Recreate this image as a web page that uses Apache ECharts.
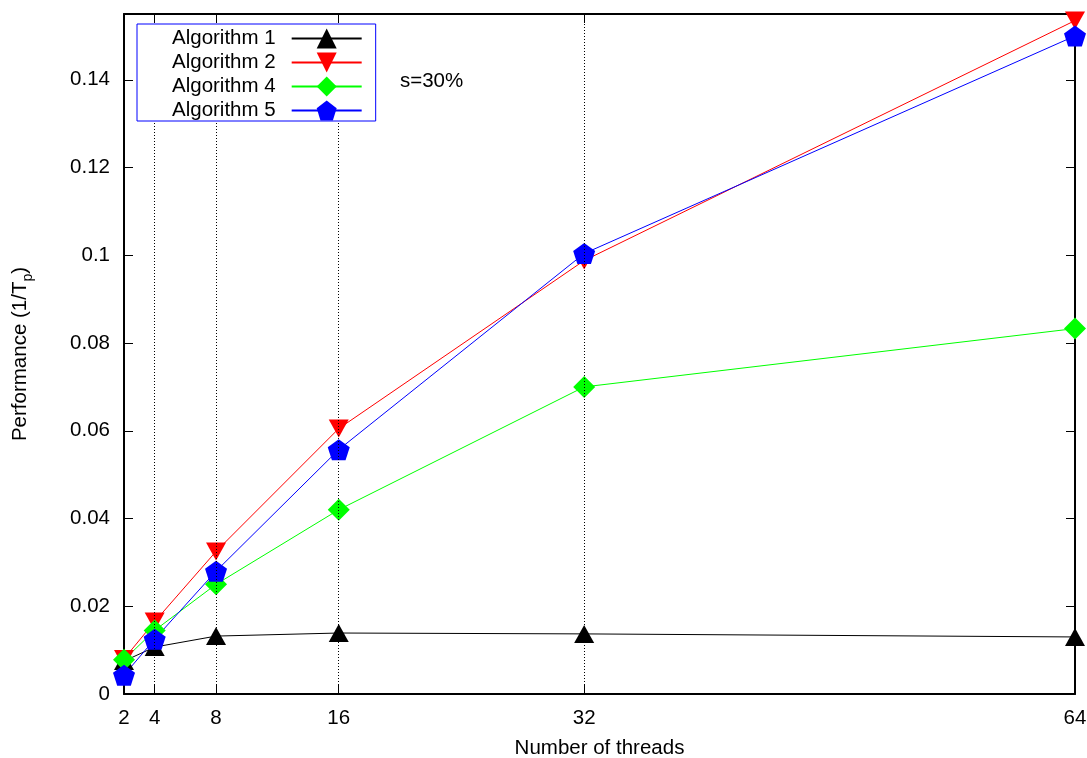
<!DOCTYPE html>
<html>
<head>
<meta charset="utf-8">
<script src="https://cdn.jsdelivr.net/npm/echarts@6/dist/echarts.min.js"></script>
<style>
  html, body { margin: 0; padding: 0; background: #fff; }
  #chart { width: 1087px; height: 758px; }
</style>
</head>
<body>
<div id="chart"></div>
<script>
// Thread counts and measured performance (1/Tp) per algorithm
const threads = [2, 4, 8, 16, 32, 64];
const algo1 = [0.0075, 0.0107, 0.0132, 0.0139, 0.0137, 0.0130];
const algo2 = [0.0080, 0.0165, 0.0325, 0.0605, 0.0988, 0.1535];
const algo4 = [0.0078, 0.0145, 0.0250, 0.0420, 0.0700, 0.0833];
const algo5 = [0.0043, 0.0125, 0.0280, 0.0557, 0.1004, 0.1500];
const seriesNames = ['Algorithm 1', 'Algorithm 2', 'Algorithm 4', 'Algorithm 5'];
const xTicks = [2, 4, 8, 16, 32, 64];
const yTicks = [0, 0.02, 0.04, 0.06, 0.08, 0.1, 0.12, 0.14];
const gridX = [4, 8, 16, 32];

const FONT = 'Liberation Sans';
const FS = 20.5;
const pentagon = 'path://M0,-1 L0.951,-0.309 L0.588,0.809 L-0.588,0.809 L-0.951,-0.309 Z';

const pairs = arr => threads.map((t, i) => [t, arr[i]]);

const chart = echarts.init(document.getElementById('chart'), null, { renderer: 'canvas' });

const baseLine = (name, data, color, symbol, size, rotate) => ({
  name, type: 'line', data: pairs(data),
  symbol, symbolSize: size, symbolRotate: rotate || 0,
  lineStyle: { color, width: 1 },
  itemStyle: { color },
  emphasis: { disabled: true },
  animation: false
});

// dotted vertical guides at the inner thread counts
const s1 = baseLine(seriesNames[0], algo1, '#000000', 'triangle', [20, 18]);
s1.markLine = {
  silent: true, symbol: 'none', animation: false,
  label: { show: false },
  lineStyle: { color: '#000', type: [1, 2], width: 1 },
  data: gridX.map(v => ({ xAxis: v }))
};

const frameAxis = { show: true, onZero: false, lineStyle: { color: '#000', width: 2 } };
const tickStyle = { color: '#000', width: 1 };

chart.setOption({
  backgroundColor: '#ffffff',
  textStyle: { fontFamily: FONT },
  grid: { left: 124, right: 12, top: 14, bottom: 64, show: false, containLabel: false, outerBoundsMode: 'none' },
  legend: {
    orient: 'vertical', align: 'right',
    left: 137, top: 24,
    itemWidth: 70, itemHeight: 25, itemGap: 3,
    padding: [4, 13, 0, 35],
    borderColor: '#0000ff', borderWidth: 1, backgroundColor: '#ffffff',
    textStyle: { fontFamily: FONT, fontSize: FS, color: '#000', padding: [0, 11, 0, 0] },
    data: seriesNames,
    selectedMode: false, z: 10
  },
  graphic: [{
    type: 'text', left: 400, top: 71,
    style: { text: 's=30%', fontFamily: FONT, fontSize: FS, fill: '#000' }
  }],
  xAxis: [{
    type: 'value', min: 2, max: 64, position: 'bottom',
    name: 'Number of threads', nameLocation: 'middle', nameGap: 44,
    nameTextStyle: { fontFamily: FONT, fontSize: FS, color: '#000' },
    axisLine: frameAxis,
    axisTick: { show: true, inside: true, length: 9, customValues: xTicks, lineStyle: tickStyle },
    axisLabel: { show: true, customValues: xTicks, margin: 14, fontFamily: FONT, fontSize: FS, color: '#000' },
    splitLine: { show: false }
  }, {
    type: 'value', min: 2, max: 64, position: 'top',
    axisLine: frameAxis,
    axisTick: { show: true, inside: true, length: 9, customValues: xTicks, lineStyle: tickStyle },
    axisLabel: { show: false },
    splitLine: { show: false }
  }],
  yAxis: [{
    type: 'value', min: 0, max: 0.155, position: 'left',
    name: '{n|Performance (1/T}{sub|p}{n|)}', nameLocation: 'middle', nameGap: 89, nameRotate: 90,
    nameTextStyle: {
      fontFamily: FONT, fontSize: FS, color: '#000',
      rich: {
        n: { fontFamily: FONT, fontSize: FS, color: '#000', lineHeight: 30, verticalAlign: 'middle' },
        sub: { fontFamily: FONT, fontSize: 14, color: '#000', lineHeight: 14, verticalAlign: 'bottom' }
      }
    },
    axisLine: frameAxis,
    axisTick: { show: true, inside: true, length: 9, customValues: yTicks, lineStyle: tickStyle },
    axisLabel: { show: true, customValues: yTicks, margin: 14, fontFamily: FONT, fontSize: FS, color: '#000' },
    splitLine: { show: false }
  }, {
    type: 'value', min: 0, max: 0.155, position: 'right',
    axisLine: frameAxis,
    axisTick: { show: true, inside: true, length: 9, customValues: yTicks, lineStyle: tickStyle },
    axisLabel: { show: false },
    splitLine: { show: false }
  }],
  series: [
    s1,
    baseLine(seriesNames[1], algo2, '#ff0000', 'triangle', [20, 18], 180),
    baseLine(seriesNames[2], algo4, '#00ff00', 'diamond', [22, 22]),
    baseLine(seriesNames[3], algo5, '#0000ff', pentagon, [22, 21])
  ]
});
</script>
</body>
</html>
